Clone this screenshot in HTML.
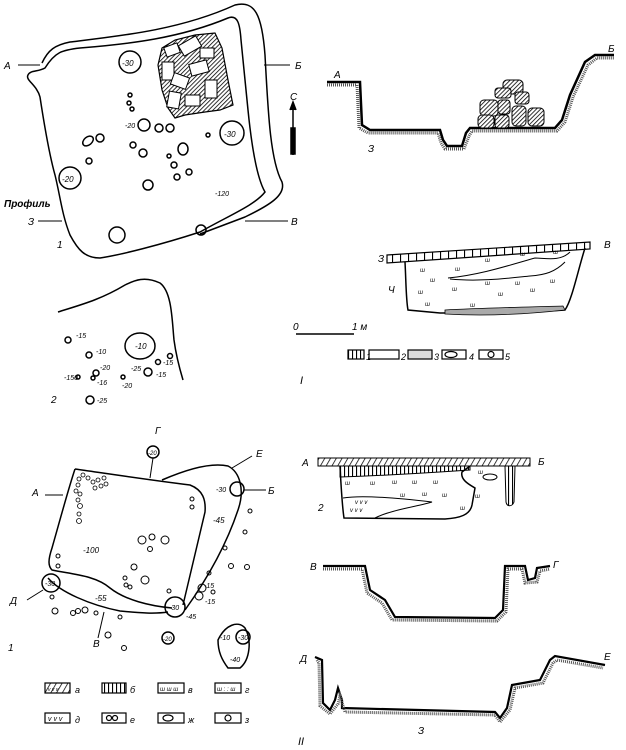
<!DOCTYPE html>
<html><head><meta charset="utf-8"><style>
body{margin:0;background:#fff;}
svg{display:block;}
text{font-family:"Liberation Sans",sans-serif;font-style:italic;fill:#000;}
</style></head><body>
<svg width="626" height="750" viewBox="0 0 626 750" xmlns="http://www.w3.org/2000/svg">
<defs>
<pattern id="hatch" width="3" height="3" patternUnits="userSpaceOnUse" patternTransform="rotate(45)">
<rect width="3" height="3" fill="#fff"/><line x1="0" y1="0" x2="0" y2="3" stroke="#000" stroke-width="1.6"/></pattern>
<pattern id="vert" width="4" height="10" patternUnits="userSpaceOnUse"><rect width="4" height="10" fill="#fff"/><line x1="0.5" y1="0" x2="0.5" y2="10" stroke="#000" stroke-width="1.2"/></pattern>
<pattern id="diag" width="5" height="5" patternUnits="userSpaceOnUse" patternTransform="rotate(30)"><rect width="5" height="5" fill="#fff"/><line x1="0" y1="0" x2="0" y2="5" stroke="#000" stroke-width="1.5"/></pattern>
<pattern id="cells" width="8" height="10" patternUnits="userSpaceOnUse"><rect width="8" height="10" fill="#fff"/><line x1="0.5" y1="0" x2="0.5" y2="10" stroke="#000" stroke-width="1.2"/></pattern>
</defs>
<g fill="none" stroke="#000" stroke-width="1.5">
<!-- Plan I.1 -->
<path d="M42,63 C48,50 55,45 70,42 C120,36 180,30 235,5 C255,0 262,15 265,55 C268,110 270,160 282,182 C286,195 270,205 245,217 L200,234"/>
<path d="M45,68 C55,52 62,50 80,48 C130,44 180,38 228,18 C238,14 240,25 241,40 L248,110 C252,150 258,180 265,192 C255,205 230,215 200,232 C160,245 120,255 100,258 C85,258 78,250 70,235 C62,215 60,195 55,175 C48,150 42,110 40,97 C37,85 25,80 28,75 C30,70 38,72 45,68 Z"/>
<line x1="18" y1="65" x2="40" y2="65" stroke-width="1"/>
<line x1="264" y1="65" x2="290" y2="65" stroke-width="1"/>
<line x1="245" y1="221" x2="288" y2="221" stroke-width="1"/>
<line x1="38" y1="221" x2="62" y2="221" stroke-width="1"/>
<circle cx="130" cy="62" r="11"/><circle cx="232" cy="133" r="12"/><circle cx="70" cy="178" r="11"/>
<circle cx="144" cy="125" r="6"/><circle cx="159" cy="128" r="4"/><circle cx="170" cy="128" r="4"/>
<ellipse cx="88" cy="141" rx="6" ry="4" transform="rotate(-40 88 141)"/><circle cx="100" cy="138" r="4"/>
<circle cx="133" cy="145" r="3"/><circle cx="143" cy="153" r="4"/><ellipse cx="183" cy="149" rx="5" ry="6"/>
<circle cx="208" cy="135" r="2"/><circle cx="169" cy="156" r="2"/><circle cx="174" cy="165" r="3"/>
<circle cx="177" cy="177" r="3"/><circle cx="189" cy="172" r="3"/><circle cx="148" cy="185" r="5"/>
<circle cx="89" cy="161" r="3"/><circle cx="117" cy="235" r="8"/><circle cx="201" cy="230" r="5"/>
<circle cx="130" cy="95" r="2"/><circle cx="129" cy="103" r="2"/><circle cx="132" cy="109" r="2"/>
</g>
<!-- stones plan -->
<g stroke="#000" stroke-width="1.2" fill="url(#hatch)">
<path d="M162,48 L175,40 L195,35 L215,33 L222,48 L228,80 L233,105 L220,110 L205,112 L185,115 L175,118 L168,108 L162,90 L158,65 Z"/>
</g>
<g stroke="#000" stroke-width="1" fill="#fff">
<rect x="165" y="45" width="14" height="10" transform="rotate(-20 172 50)"/>
<rect x="180" y="40" width="20" height="12" transform="rotate(-30 190 46)"/>
<rect x="162" y="62" width="12" height="18"/><rect x="172" y="75" width="16" height="12" transform="rotate(20 180 81)"/>
<rect x="190" y="62" width="18" height="12" transform="rotate(-15 199 68)"/><rect x="168" y="92" width="12" height="16" transform="rotate(10 174 100)"/>
<rect x="185" y="95" width="15" height="11"/><rect x="205" y="80" width="12" height="18"/><rect x="200" y="48" width="14" height="10"/>
</g>
<g fill="none" stroke="#000" stroke-width="1.5">
<!-- N arrow -->
<line x1="293" y1="105" x2="293" y2="155"/>
<rect x="291" y="128" width="4" height="26" fill="#000"/>
<path d="M290,110 L293,102 L296,110" fill="#000"/>
<!-- Plan 2 -->
<path d="M58,312 C80,305 100,300 125,285 C135,280 145,276 160,283 C172,292 172,320 174,340 C176,355 180,370 183,380"/>
<circle cx="68" cy="340" r="3"/><circle cx="89" cy="355" r="3"/><ellipse cx="140" cy="346" rx="15" ry="13"/>
<circle cx="158" cy="362" r="2.5"/><circle cx="170" cy="356" r="2.5"/><circle cx="148" cy="372" r="4"/>
<circle cx="96" cy="373" r="3"/><circle cx="93" cy="378" r="2"/><circle cx="123" cy="377" r="2"/><circle cx="78" cy="377" r="2"/><circle cx="90" cy="400" r="4"/>
<!-- scale -->
<line x1="296" y1="334" x2="354" y2="334"/>
</g>
<g font-size="10">
<text x="4" y="69">А</text><text x="295" y="69">Б</text><text x="291" y="225">В</text><text x="28" y="225">З</text>
<text x="4" y="207" font-weight="bold" font-size="10">Профиль</text><text x="57" y="248">1</text>
<text x="290" y="100">С</text>
<text x="122" y="66" font-size="8">-30</text><text x="224" y="137" font-size="8">-30</text><text x="62" y="182" font-size="8">-20</text>
<text x="125" y="128" font-size="7">-20</text><text x="215" y="196" font-size="7">-120</text>
<text x="76" y="338" font-size="7">-15</text><text x="96" y="354" font-size="7">-10</text><text x="135" y="349" font-size="8">-10</text>
<text x="163" y="365" font-size="7">-15</text><text x="131" y="371" font-size="7">-25</text><text x="156" y="377" font-size="7">-15</text>
<text x="100" y="370" font-size="7">-20</text><text x="97" y="385" font-size="7">-16</text><text x="122" y="388" font-size="7">-20</text>
<text x="64" y="380" font-size="7">-150</text><text x="97" y="403" font-size="7">-25</text><text x="51" y="403">2</text>
<text x="293" y="330">0</text><text x="352" y="330">1 м</text>
</g>
<!-- Profile A-Б -->
<path d="M327,82 L360,82 L362,125 L370,130 L440,130 L443,140 L447,146 L462,146 L466,133 L470,128 L555,128 L562,120 L570,95 L585,62 L595,55 L614,55" fill="none" stroke="#000" stroke-width="2.5"/>
<path d="M327,85 L357,85 L359,128 L368,133 L438,133 L441,143 L445,149 L464,149 L469,136 L472,131 L557,131 L565,122 L573,97 L588,65 L597,58 L614,58" fill="none" stroke="#555" stroke-width="3" stroke-dasharray="1 1"/>
<g stroke="#000" stroke-width="1" fill="url(#hatch)">
<rect x="503" y="80" width="20" height="14" rx="4"/><rect x="495" y="88" width="16" height="10" rx="3"/>
<rect x="480" y="100" width="18" height="16" rx="4"/><rect x="498" y="100" width="12" height="14" rx="3"/>
<rect x="515" y="92" width="14" height="12" rx="3"/><rect x="512" y="106" width="14" height="20" rx="4"/>
<rect x="528" y="108" width="16" height="18" rx="4"/><rect x="478" y="115" width="16" height="13" rx="4"/><rect x="495" y="115" width="14" height="13" rx="3"/>
</g>
<g font-size="10"><text x="334" y="78">А</text><text x="608" y="52">Б</text><text x="368" y="152">З</text></g>
<!-- section З-В -->
<path d="M387,255 L590,242 L590,249 L387,263 Z" fill="url(#cells)" stroke="#000" stroke-width="1.2"/>
<path d="M405,262 C406,280 406,300 408,310 L440,313 C480,312 520,313 565,310 C572,300 578,270 585,248" fill="none" stroke="#000" stroke-width="1.5"/>
<path d="M445,314 C480,316 520,315 565,310 L563,306 C530,307 480,308 445,310 Z" fill="#aaa" stroke="#000" stroke-width="0.8"/>
<path d="M448,278 C480,275 510,265 535,258 C545,258 560,262 570,252 M450,279 C480,282 510,278 530,276 C545,275 555,272 565,262" fill="none" stroke="#000" stroke-width="1"/>
<g font-size="10"><text x="378" y="262">З</text><text x="604" y="248">В</text><text x="388" y="293">Ч</text></g>
<g font-size="6"><text x="420" y="272">ш</text><text x="455" y="271">ш</text><text x="430" y="282">ш</text><text x="418" y="294">ш</text><text x="452" y="291">ш</text><text x="498" y="296">ш</text><text x="530" y="292">ш</text><text x="425" y="306">ш</text><text x="470" y="307">ш</text><text x="550" y="283">ш</text><text x="485" y="285">ш</text><text x="515" y="285">ш</text><text x="553" y="254">ш</text><text x="485" y="262">ш</text><text x="520" y="256">ш</text></g>
<!-- legend I -->
<g stroke="#000" stroke-width="1.2" fill="none">
<rect x="348" y="350" width="16" height="9" fill="url(#vert)"/>
<rect x="369" y="350" width="30" height="9"/>
<rect x="408" y="350" width="24" height="9" fill="#ddd"/>
<rect x="442" y="350" width="24" height="9"/><ellipse cx="451" cy="354.5" rx="6" ry="3"/>
<rect x="479" y="350" width="24" height="9"/><circle cx="491" cy="354.5" r="3"/>
</g>
<g font-size="9"><text x="366" y="360">1</text><text x="401" y="360">2</text><text x="434" y="360">3</text><text x="469" y="360">4</text><text x="505" y="360">5</text><text x="300" y="384" font-size="11">I</text></g>
<!-- Plan II -->
<g fill="none" stroke="#000" stroke-width="1.5">
<path d="M75,469 C110,474 150,480 190,485 C203,490 206,500 205,512 L183,605"/>
<path d="M75,469 C68,490 60,520 52,548 C48,560 48,566 52,570 C70,574 95,575 110,588 C125,600 150,606 172,608"/>
<path d="M48,578 C60,592 90,605 120,611 C140,613 155,614 168,612"/>
<path d="M162,480 C185,470 210,462 228,466 C240,472 245,490 238,510 C228,540 210,575 185,610"/>
<circle cx="51" cy="583" r="9"/><circle cx="175" cy="607" r="10"/><circle cx="237" cy="489" r="7"/>
<circle cx="153" cy="452" r="6"/><circle cx="168" cy="638" r="6"/>
<line x1="150" y1="478" x2="153" y2="458" stroke-width="1"/>
<line x1="232" y1="468" x2="252" y2="456" stroke-width="1"/>
<line x1="244" y1="490" x2="266" y2="490" stroke-width="1"/>
<line x1="45" y1="495" x2="63" y2="495" stroke-width="1"/>
<line x1="27" y1="600" x2="43" y2="590" stroke-width="1"/>
<line x1="104" y1="612" x2="98" y2="638" stroke-width="1"/>
<path d="M218,640 C225,625 238,620 245,628 C252,640 250,660 240,668 L228,668 C222,660 218,652 218,640 Z"/>
<circle cx="243" cy="637" r="7"/>
</g>
<g stroke="#000" stroke-width="1" fill="none">
<circle cx="192" cy="499" r="2"/><circle cx="192" cy="507" r="2"/><circle cx="142" cy="540" r="4"/><circle cx="152" cy="537" r="3"/><circle cx="165" cy="540" r="4"/><circle cx="150" cy="549" r="2.5"/>
<circle cx="134" cy="567" r="3"/><circle cx="125" cy="578" r="2"/><circle cx="126" cy="585" r="2"/><circle cx="130" cy="587" r="2"/><circle cx="145" cy="580" r="4"/>
<circle cx="58" cy="556" r="2"/><circle cx="58" cy="566" r="2"/><circle cx="169" cy="591" r="2"/>
<circle cx="52" cy="597" r="2"/><circle cx="55" cy="611" r="3"/><circle cx="73" cy="613" r="2.5"/><circle cx="78" cy="611" r="2.5"/><circle cx="85" cy="610" r="3"/><circle cx="96" cy="613" r="2"/><circle cx="120" cy="617" r="2"/>
<circle cx="108" cy="635" r="3"/><circle cx="124" cy="648" r="2.5"/>
<circle cx="250" cy="511" r="2"/><circle cx="245" cy="532" r="2"/><circle cx="225" cy="548" r="2"/><circle cx="231" cy="566" r="2.5"/><circle cx="247" cy="567" r="2.5"/><circle cx="209" cy="573" r="2"/>
<circle cx="202" cy="588" r="4"/><circle cx="199" cy="596" r="4"/><circle cx="213" cy="592" r="2"/>
</g>
<g fill="#fff" stroke="#000" stroke-width="0.8">
<circle cx="79" cy="479" r="2"/><circle cx="83" cy="475" r="2"/><circle cx="88" cy="478" r="2"/><circle cx="93" cy="482" r="2"/><circle cx="98" cy="480" r="2"/><circle cx="104" cy="478" r="2"/><circle cx="106" cy="484" r="2"/><circle cx="101" cy="486" r="2"/><circle cx="95" cy="488" r="2"/>
<circle cx="78" cy="485" r="2"/><circle cx="76" cy="491" r="2"/><circle cx="80" cy="494" r="2"/><circle cx="78" cy="500" r="2"/><circle cx="80" cy="506" r="2.5"/><circle cx="79" cy="514" r="2"/><circle cx="79" cy="521" r="2.5"/>
</g>
<g font-size="9">
<text x="32" y="496" font-size="10">А</text><text x="155" y="434" font-size="10">Г</text><text x="256" y="457" font-size="10">Е</text><text x="268" y="494" font-size="10">Б</text>
<text x="10" y="604" font-size="10">Д</text><text x="93" y="647" font-size="10">В</text><text x="8" y="651" font-size="10">1</text>
<text x="45" y="586" font-size="7">-30</text><text x="169" y="610" font-size="7">-30</text><text x="216" y="492" font-size="7">-30</text><text x="148" y="455" font-size="6">-20</text><text x="163" y="641" font-size="6">-20</text><text x="238" y="640" font-size="7">-30</text>
<text x="83" y="553" font-size="8">-100</text><text x="95" y="601" font-size="8">-55</text><text x="213" y="523" font-size="8">-45</text><text x="186" y="619" font-size="7">-45</text>
<text x="204" y="588" font-size="7">-15</text><text x="205" y="604" font-size="7">-15</text><text x="220" y="640" font-size="7">-10</text><text x="230" y="662" font-size="7">-40</text>
</g>
<!-- legend II -->
<g stroke="#000" stroke-width="1.2" fill="none">
<rect x="45" y="683" width="25" height="10" fill="url(#diag)"/>
<rect x="102" y="683" width="24" height="10" fill="url(#vert)"/>
<rect x="158" y="683" width="26" height="10"/>
<rect x="215" y="683" width="26" height="10"/>
<rect x="45" y="713" width="25" height="10"/>
<rect x="102" y="713" width="24" height="10"/><circle cx="109" cy="718" r="2.5"/><circle cx="115" cy="718" r="2.5"/>
<rect x="158" y="713" width="26" height="10"/><ellipse cx="168" cy="718" rx="5" ry="3"/>
<rect x="215" y="713" width="26" height="10"/><circle cx="228" cy="718" r="3"/>
</g>
<g font-size="9">
<text x="75" y="693">а</text><text x="130" y="693">б</text><text x="188" y="693">в</text><text x="245" y="693">г</text>
<text x="75" y="723">д</text><text x="130" y="723">е</text><text x="188" y="723">ж</text><text x="245" y="723">з</text>
<text x="48" y="691" font-size="5">v v v</text><text x="160" y="691" font-size="6">ш ш ш</text><text x="217" y="691" font-size="6">ш : : ш</text><text x="48" y="721" font-size="7">v v v</text>
<text x="298" y="745" font-size="11">II</text>
</g>
<!-- Section II A-Б -->
<rect x="318" y="458" width="212" height="8" fill="url(#diag)" stroke="#000" stroke-width="1"/>
<path d="M340,466 L470,466 L470,470 C440,472 400,475 340,477 Z" fill="url(#vert)" stroke="#000" stroke-width="1"/>
<path d="M340,466 C341,485 342,505 344,518 L445,519 C460,518 470,515 472,505 L475,488 C470,485 460,480 462,472 L470,466" fill="none" stroke="#000" stroke-width="1.5"/>
<path d="M343,498 C360,495 390,497 432,502 C420,506 390,510 375,518 M343,498" fill="none" stroke="#000" stroke-width="1"/>
<path d="M505,466 L515,466 L514,502 C512,507 507,507 506,502 Z" fill="url(#vert)" stroke="#000" stroke-width="1"/>
<ellipse cx="490" cy="477" rx="7" ry="3" fill="none" stroke="#000"/>
<g font-size="10"><text x="302" y="466">А</text><text x="538" y="465">Б</text><text x="318" y="511">2</text></g>
<g font-size="6"><text x="345" y="485">ш</text><text x="370" y="485">ш</text><text x="392" y="484">ш</text><text x="412" y="484">ш</text><text x="433" y="484">ш</text><text x="400" y="497">ш</text><text x="422" y="496">ш</text><text x="442" y="497">ш</text><text x="460" y="510">ш</text><text x="475" y="498">ш</text><text x="478" y="474">ш</text><text x="355" y="504">v v v</text><text x="350" y="512">v v v</text></g>
<!-- В-Г profile -->
<path d="M323,566 L365,566 L370,590 L385,600 L395,617 L495,618 L503,610 L505,566 L525,566 L528,580 L535,578 L537,568 L550,566" fill="none" stroke="#000" stroke-width="2.2"/>
<path d="M323,569 L362,569 L367,593 L382,603 L392,620 L497,621 L506,612 L508,569 L522,569 L525,583 L537,582 L540,571 L550,569" fill="none" stroke="#555" stroke-width="3" stroke-dasharray="1 1"/>
<g font-size="10"><text x="310" y="570">В</text><text x="553" y="568">Г</text></g>
<!-- Д-Е profile -->
<path d="M315,657 L322,660 L323,703 L330,710 L335,700 L338,688 L342,700 L342,708 L495,712 L500,718 L507,708 L512,685 L540,680 L550,660 L555,656 L605,665" fill="none" stroke="#000" stroke-width="2.2"/>
<path d="M317,660 L319,663 L320,706 L330,714 L338,704 L340,696 L345,712 L495,715 L500,722 L510,710 L515,688 L543,683 L553,663 L557,660 L603,668" fill="none" stroke="#555" stroke-width="3" stroke-dasharray="1 1"/>
<g font-size="10"><text x="300" y="662">Д</text><text x="604" y="660">Е</text><text x="418" y="734">З</text></g>
</svg>
</body></html>
